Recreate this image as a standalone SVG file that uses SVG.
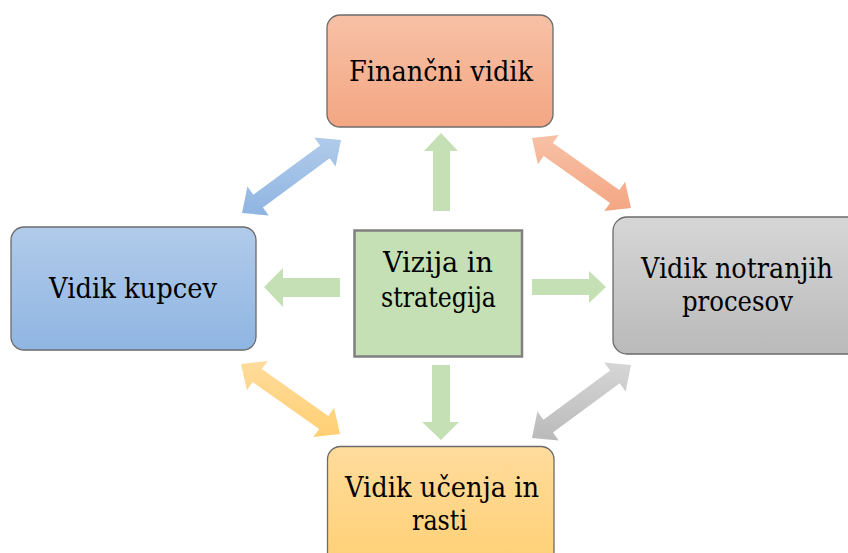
<svg xmlns="http://www.w3.org/2000/svg" width="848" height="553" viewBox="0 0 848 553">
<defs>
<linearGradient id="gOrange" x1="0" y1="0" x2="0" y2="1"><stop offset="0" stop-color="#f7c1a6"/><stop offset="1" stop-color="#f4a683"/></linearGradient>
<linearGradient id="gBlue" x1="0" y1="0" x2="0" y2="1"><stop offset="0" stop-color="#b1cbea"/><stop offset="1" stop-color="#8fb5e2"/></linearGradient>
<linearGradient id="gGray" x1="0" y1="0" x2="0" y2="1"><stop offset="0" stop-color="#d6d6d6"/><stop offset="1" stop-color="#bababa"/></linearGradient>
<linearGradient id="gYellow" x1="0" y1="0" x2="0" y2="1"><stop offset="0" stop-color="#ffdc9c"/><stop offset="1" stop-color="#ffcf73"/></linearGradient>
</defs>
<style>
.box{stroke:#6b6b6b;stroke-width:1.3}
.t{font-family:'DejaVu Serif Condensed','DejaVu Serif','Liberation Serif',serif;font-size:28.5px;fill:#000;text-anchor:middle}
.green{fill:#c5e0b4}
</style>
<rect width="848" height="553" fill="#ffffff"/>
<g id="connectors">
<polygon class="green" points="433,211 433,151 424,151 441,133 458,151 450,151 450,211"/>
<polygon class="green" points="340,278 283,278 283,268 264,287 283,307 283,297 340,297"/>
<polygon class="green" points="532,279 589,279 589,271 606,287 589,303 589,295 532,295"/>
<polygon class="green" points="432,365 432,422 422,422 441,440 459,422 450,422 450,365"/>
<polygon fill="url(#gBlue)" points="242,213 247.4,186.6 253.4,194.7 320.1,145.5 314.2,137.4 341,140 335.6,166.4 329.7,158.3 262.9,207.5 268.8,215.6"/>
<polygon fill="url(#gOrange)" points="532,138 558.7,134.9 552.9,143.1 619.3,189.9 625.1,181.7 631,208 604.3,211.1 610.1,202.9 543.7,156.1 537.9,164.3"/>
<polygon fill="url(#gGray)" points="532,438 537.4,411.6 543.4,419.7 610.1,370.5 604.2,362.4 631,365 625.6,391.4 619.7,383.3 552.9,432.5 558.8,440.6"/>
<polygon fill="url(#gYellow)" points="241,364 267.7,360.9 261.9,369.1 328.3,415.9 334.1,407.7 340,434 313.3,437.1 319.1,428.9 252.7,382.1 246.9,390.3"/>
</g>
<g id="financni">
<rect class="box" x="327" y="15" width="226" height="112" rx="13" fill="url(#gOrange)"/>
<text class="t" x="441" y="81" textLength="184" lengthAdjust="spacingAndGlyphs">Finančni vidik</text>
</g>
<g id="kupcev">
<rect class="box" x="11" y="227" width="245" height="123" rx="13" fill="url(#gBlue)"/>
<text class="t" x="133" y="298" textLength="168" lengthAdjust="spacingAndGlyphs">Vidik kupcev</text>
</g>
<g id="notranjih">
<rect class="box" x="613" y="217" width="250" height="137" rx="14" fill="url(#gGray)"/>
<text class="t" x="737" y="278" textLength="192" lengthAdjust="spacingAndGlyphs">Vidik notranjih</text>
<text class="t" x="737.5" y="311" textLength="111" lengthAdjust="spacingAndGlyphs">procesov</text>
</g>
<g id="ucenja">
<rect class="box" x="327.5" y="446.5" width="226.5" height="125" rx="13" fill="url(#gYellow)"/>
<text class="t" x="442" y="497" textLength="194" lengthAdjust="spacingAndGlyphs">Vidik učenja in</text>
<text class="t" x="439.5" y="530" textLength="55" lengthAdjust="spacingAndGlyphs">rasti</text>
</g>
<g id="vizija">
<rect x="354.5" y="230.5" width="167.5" height="126" fill="#c5e0b4" stroke="#808080" stroke-width="2.5"/>
<text class="t" x="438" y="272" textLength="110" lengthAdjust="spacingAndGlyphs">Vizija in</text>
<text class="t" x="438.5" y="307" textLength="115" lengthAdjust="spacingAndGlyphs">strategija</text>
</g>
</svg>
